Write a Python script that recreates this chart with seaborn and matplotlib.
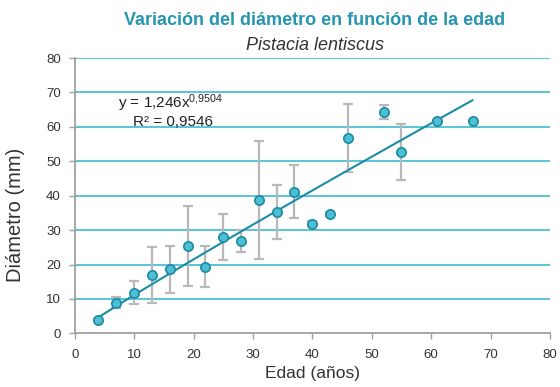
import numpy as np
import pandas as pd
import seaborn as sns
import matplotlib.pyplot as plt

# datos
edad = [4, 7, 10, 13, 16, 19, 22, 25, 28, 31, 34, 37, 40, 43, 46, 52, 55, 61, 67]
diametro = [3.8, 8.9, 11.8, 16.9, 18.6, 25.4, 19.4, 28.0, 26.8, 38.7, 35.2, 41.2,
            31.9, 34.6, 56.8, 64.3, 52.7, 61.7, 61.7]
error = [0.3, 1.6, 3.3, 8.1, 6.8, 11.6, 5.9, 6.6, 3.2, 17.1, 7.9, 7.8,
         0.7, 0.5, 9.9, 2.0, 8.1, 0.3, 0.3]

# ajuste potencial mostrado en el grafico
coef_a = 1.246
coef_b = 0.9504

df = pd.DataFrame({'Edad': edad, 'Diametro': diametro, 'Error': error})
x_fit = np.linspace(min(edad), max(edad), 100)
df_fit = pd.DataFrame({'Edad': x_fit, 'Diametro': coef_a * x_fit ** coef_b})

sns.set_style("white")
plt.rcParams['font.family'] = ['Liberation Sans', 'DejaVu Sans']
plt.rcParams['mathtext.fontset'] = 'custom'
plt.rcParams['mathtext.rm'] = 'Liberation Sans'
plt.rcParams['mathtext.it'] = 'Liberation Sans:italic'

fig = plt.figure(figsize=(5.6, 3.87), dpi=100)
ax = fig.add_axes([0.1334, 0.1387, 0.8486, 0.7113])

for y in range(10, 90, 10):
    ax.axhline(y, color='#2cb4cc', lw=1.1, zorder=0)

ax.errorbar(df['Edad'], df['Diametro'], yerr=df['Error'], fmt='none',
            ecolor='#b8b8b8', elinewidth=1.6, capsize=3.7, capthick=1.6, zorder=1)
sns.lineplot(data=df_fit, x='Edad', y='Diametro', color='#1a8ca6', lw=1.5, ax=ax, zorder=2)
sns.scatterplot(data=df, x='Edad', y='Diametro', s=45, color='#4cc0d2',
                edgecolor='#1c8aa3', linewidth=1.2, ax=ax, zorder=3)

ax.set_xlim(0, 80)
ax.set_ylim(0, 80)
ax.set_xticks(range(0, 90, 10))
ax.set_yticks(range(0, 90, 10))
ax.tick_params(axis='both', direction='out', length=4, width=1, color='#a0a0a0',
               labelsize=9.5, labelcolor='#333333')
ax.tick_params(axis='x', pad=7)
ax.tick_params(axis='y', pad=6)
ax.tick_params(axis='both', bottom=True, left=True)
for s in ['top', 'right']:
    ax.spines[s].set_visible(False)
for s in ['left', 'bottom']:
    ax.spines[s].set_color('#a0a0a0')
    ax.spines[s].set_linewidth(1.3)

ax.set_xlabel('Edad (años)', fontsize=12.5, color='#333333', labelpad=4)
ax.set_ylabel('Diámetro (mm)', fontsize=14.5, color='#333333')
ax.yaxis.set_label_coords(-0.104, 0.43)

ax.text(7.3, 67, r'y = 1,246x$^{0{,}9504}$', fontsize=11, color='#222222', va='center')
ax.text(9.8, 61.5, 'R² = 0,9546', fontsize=11, color='#222222', va='center')

fig.text(0.562, 0.948, 'Variación del diámetro en función de la edad', ha='center',
         va='center', fontsize=13, fontweight='bold', color='#2595b0')
fig.text(0.562, 0.882, 'Pistacia lentiscus', ha='center', va='center',
         fontsize=13, style='italic', color='#333333')

fig.savefig('out.png', dpi=100)
